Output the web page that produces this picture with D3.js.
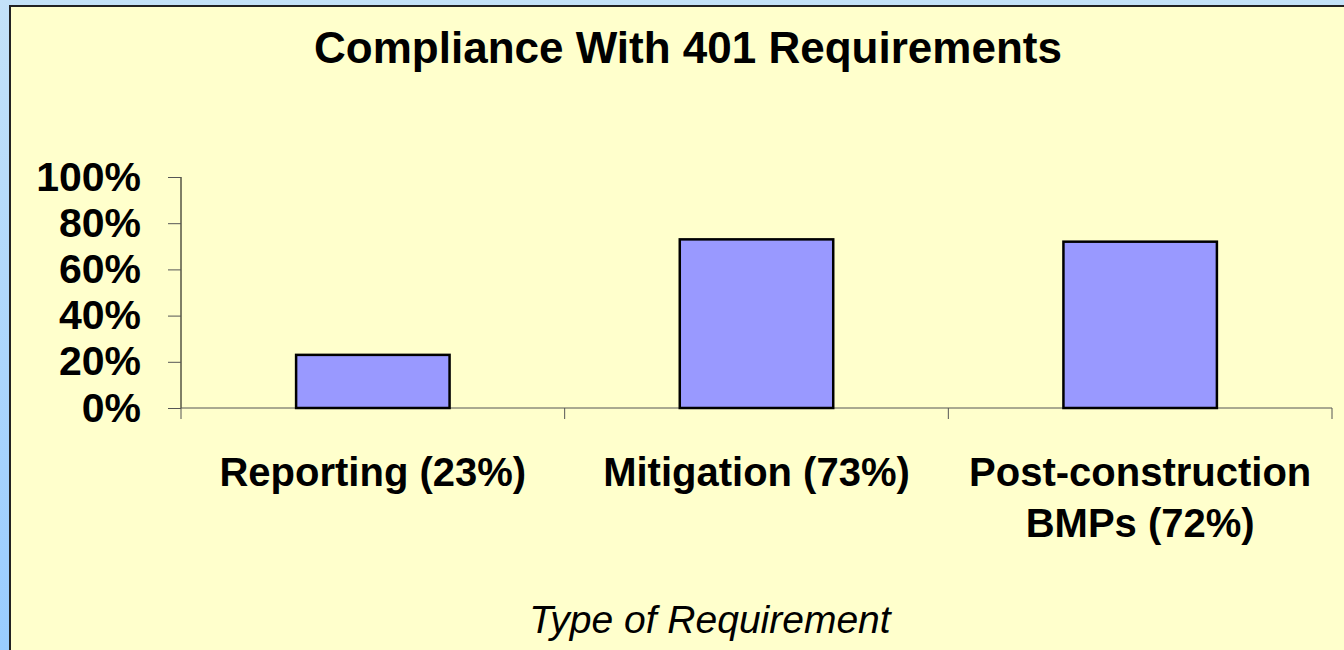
<html>
    <head>
        <style>
body {
    margin: 0;
    font-family: "Liberation Sans", Arial, sans-serif;
}
.chart {
    display: block;
}
.chart .tick text {
    font-size: 41px;
    font-weight: bold;
    fill: #000;
}
.chart .cat {
    font-size: 40px;
    font-weight: bold;
}
        </style>
    </head>
    <body>
<script src="https://d3js.org/d3.v7.min.js"></script>
<script>

const
    width = 1344,
    height = 650;

const categories = ['Reporting (23%)', 'Mitigation (73%)', 'Post-construction BMPs (72%)'];
const catLines = [['Reporting (23%)'], ['Mitigation (73%)'], ['Post-construction', 'BMPs (72%)']];
const values = [0.23, 0.73, 0.72];
const yTicks = [0, 0.2, 0.4, 0.6, 0.8, 1.0];

var svg = d3.select('body')
    .append('svg')
    .classed('chart', true)
    .attr('width', width)
    .attr('height', height);

// blue backdrop behind the slide panel
const grad = svg.append('defs').append('linearGradient')
    .attr('id', 'bg')
    .attr('x1', 0).attr('y1', 0).attr('x2', 0).attr('y2', 1);
grad.append('stop').attr('offset', '0%').attr('stop-color', '#c4e2f8');
grad.append('stop').attr('offset', '100%').attr('stop-color', '#99ccff');

svg.append('rect')
    .attr('width', width)
    .attr('height', height)
    .attr('fill', 'url(#bg)');

svg.append('rect')
    .attr('x', 10)
    .attr('y', 6)
    .attr('width', width + 20)
    .attr('height', height + 20)
    .attr('fill', '#ffffcc')
    .attr('stroke', '#222')
    .attr('stroke-width', 2);

const
    x0 = 181, x1 = 1332,
    y0 = 408, y1 = 177;

var x = d3.scaleBand()
    .domain(categories)
    .range([x0, x1])
    .paddingInner(0.6)
    .paddingOuter(0.3);

var y = d3.scaleLinear()
    .domain([0, 1])
    .range([y0, y1]);

svg.append('text')
    .attr('x', 688)
    .attr('y', 63)
    .attr('text-anchor', 'middle')
    .style('font-size', '44px')
    .style('font-weight', 'bold')
    .text('Compliance With 401 Requirements');

// y axis
var yAxis = svg.append('g')
    .attr('transform', 'translate(' + x0 + ',0)')
    .call(d3.axisLeft(y)
        .tickValues(yTicks)
        .tickFormat(d3.format('.0%'))
        .tickSize(13)
        .tickPadding(27));
yAxis.select('.domain').attr('stroke', '#000').attr('d', 'M0,' + y1 + 'V' + y0);
yAxis.selectAll('.tick line').attr('stroke', '#555');
yAxis.selectAll('.tick text').attr('font-family', null).attr('font-size', null);

// x axis line + category separators
svg.append('line')
    .attr('x1', x0).attr('x2', x1)
    .attr('y1', y0).attr('y2', y0)
    .attr('stroke', '#555');

const step = x.step();
const seps = d3.range(0, categories.length + 1).map(i => x0 + i * step);
svg.selectAll('.sep')
    .data(seps)
  .enter().append('line')
    .attr('x1', d => d).attr('x2', d => d)
    .attr('y1', y0).attr('y2', y0 + 11)
    .attr('stroke', '#555');

svg.selectAll('.bar')
    .data(values)
  .enter().append('rect')
    .classed('bar', true)
    .attr('x', (d, i) => x(categories[i]))
    .attr('y', d => y(d))
    .attr('width', x.bandwidth())
    .attr('height', d => y(0) - y(d))
    .attr('fill', '#9999ff')
    .attr('stroke', '#000')
    .attr('stroke-width', 2.5);

svg.selectAll('.cat')
    .data(categories)
  .enter().append('text')
    .classed('cat', true)
    .attr('text-anchor', 'middle')
    .attr('x', d => x(d) + x.bandwidth() / 2)
    .attr('y', 486)
    .each(function(d, i) {
        d3.select(this).selectAll('tspan')
            .data(catLines[i])
          .enter().append('tspan')
            .attr('x', x(d) + x.bandwidth() / 2)
            .attr('dy', (t, j) => j ? 51 : 0)
            .text(t => t);
    });

svg.append('text')
    .attr('x', 710)
    .attr('y', 633)
    .attr('text-anchor', 'middle')
    .style('font-size', '39px')
    .style('font-style', 'italic')
    .text('Type of Requirement');

</script>
    </body>
</html>
